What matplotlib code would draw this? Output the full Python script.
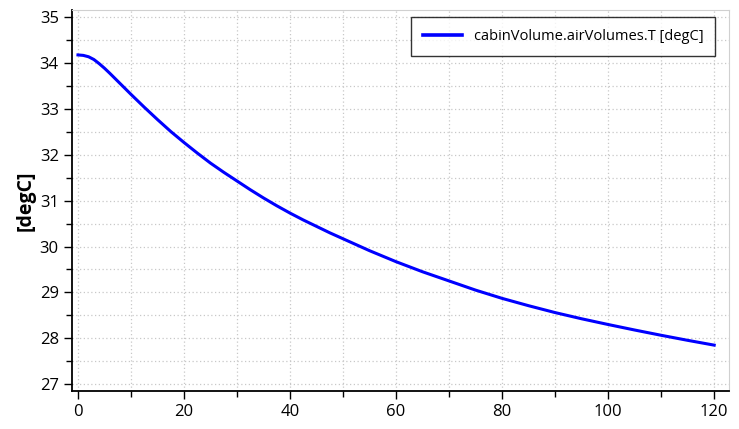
import matplotlib
matplotlib.use("Agg")
import matplotlib.pyplot as plt
from matplotlib.ticker import MultipleLocator

# simulation time [s] and cabin air temperature [degC]
time_s = [0, 1, 2, 3, 4, 5, 6, 8, 10, 12.5, 15, 17.5, 20, 22.5, 25, 27.5, 30,
          32.5, 35, 37.5, 40, 42.5, 45, 47.5, 50, 55, 60, 65, 70, 75, 80, 85,
          90, 95, 100, 105, 110, 115, 120]
temp_c = [34.18, 34.17, 34.14, 34.08, 33.99, 33.89, 33.78, 33.55, 33.32, 33.04,
          32.77, 32.51, 32.27, 32.04, 31.82, 31.62, 31.43, 31.24, 31.06, 30.89,
          30.73, 30.58, 30.44, 30.30, 30.17, 29.91, 29.67, 29.45, 29.25, 29.05,
          28.87, 28.71, 28.56, 28.425, 28.30, 28.18, 28.065, 27.955, 27.85]
series_label = "cabinVolume.airVolumes.T [degC]"
y_label = "[degC]"

plt.rcParams['font.family'] = ['Open Sans', 'DejaVu Sans']

fig = plt.figure(figsize=(7.39, 4.29), dpi=100)
ax = fig.add_axes([0.0974, 0.0886, 0.8891, 0.8881])

ax.plot(time_s, temp_c, color='#0000ff', lw=2.2, label=series_label)

ax.set_xlim(-1.13, 122.8)
ax.set_ylim(26.85, 35.16)
ax.xaxis.set_major_locator(MultipleLocator(20))
ax.xaxis.set_minor_locator(MultipleLocator(10))
ax.yaxis.set_major_locator(MultipleLocator(1))
ax.yaxis.set_minor_locator(MultipleLocator(0.5))

ax.grid(which='both', color='#c8c8c8', linestyle=(0, (1, 2)), linewidth=0.9)
ax.tick_params(which='major', length=6, width=1, labelsize=12, color='black')
ax.tick_params(which='minor', length=4.5, width=1, color='black')

for side in ['top', 'right']:
    ax.spines[side].set_color('#d0d0d0')
for side in ['left', 'bottom']:
    ax.spines[side].set_color('black')
    ax.spines[side].set_linewidth(1.3)

ax.set_ylabel(y_label, fontsize=14, fontweight='bold', labelpad=3)

leg = ax.legend(loc='upper right', fontsize=10.5, frameon=True, fancybox=False,
                edgecolor='black', handlelength=2.7, borderpad=0.8,
                bbox_to_anchor=(0.99, 1.0))
leg.get_frame().set_linewidth(1.0)
leg.get_lines()[0].set_linewidth(2.6)

fig.savefig("out.png", dpi=100)
